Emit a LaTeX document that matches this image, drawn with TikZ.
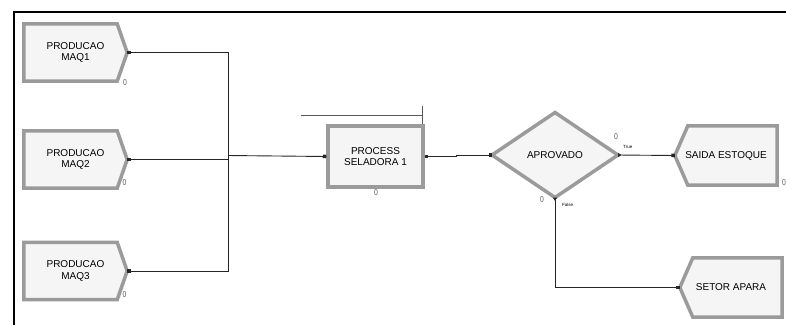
\documentclass[tikz,border=0pt]{standalone}
\usepackage{fontspec}
\setmainfont{Liberation Sans}
\usetikzlibrary{arrows.meta,shapes.geometric,positioning,backgrounds}

\definecolor{modedge}{RGB}{155,155,155}
\definecolor{modfill}{RGB}{245,245,245}
\definecolor{cntgray}{RGB}{90,90,90}

\tikzset{
  modtext/.style={minimum width=103pt, minimum height=57pt, inner sep=0pt,
    align=center, font=\fontsize{10}{11.5}\selectfont},
  disptext/.style={modtext, minimum width=102pt, minimum height=59pt},
  modframe/.style={draw=modedge, line width=3.5pt, fill=modfill, line join=miter},
  procbox/.style={modtext, modframe, rectangle, minimum width=95pt, minimum height=61pt},
  decide/.style={modframe, diamond, minimum width=126pt, minimum height=85pt,
    inner sep=0pt, outer sep=0pt, font=\fontsize{10}{11.5}\selectfont},
  flow/.style={draw=black!85, line width=0.9pt},
  qline/.style={draw=black!65, line width=1pt},
  cnt/.style={font=\fontsize{8.5}{9}\selectfont, text=cntgray, inner sep=0pt, xscale=0.8},
  small/.style={font=\fontsize{4.5}{5}\selectfont, inner sep=0pt},
  entry/.tip={Square[length=3.5pt,width=3.5pt]},
  exit/.tip={Triangle[reversed,length=3.5pt,width=4pt]},
}

\begin{document}
\begin{tikzpicture}[x=1pt, y=-1pt]
  \useasboundingbox (0,0) rectangle (786,325);
  \draw[line width=2.5pt] (786,12) -- (14,12) -- (14,325);

  % create modules
  \node[modtext] (maq1) at (75.5,52.5) {PRODUCAO\\MAQ1};
  \node[modtext] (maq2) at (75.5,159.5) {PRODUCAO\\MAQ2};
  \node[modtext] (maq3) at (75.5,271) {PRODUCAO\\MAQ3};
  \begin{scope}[on background layer]
    \foreach \n in {maq1,maq2,maq3}
      \draw[modframe] (\n.north west) -- ([xshift=-10pt]\n.north east) -- (\n.east)
        -- ([xshift=-10pt]\n.south east) -- (\n.south west) -- cycle;
  \end{scope}

  % process and decide
  \node[procbox] (proc) at (375.5,156.5) {PROCESS\\SELADORA 1};
  \node[decide] (aprov) at (555,155) {APROVADO};

  % dispose modules
  \node[disptext] (saida) at (726,155.5) {SAIDA ESTOQUE};
  \node[disptext] (setor) at (731,287.5) {SETOR APARA};
  \begin{scope}[on background layer]
    \foreach \n in {saida,setor}
      \draw[modframe] (\n.west) -- ([xshift=13pt]\n.north west) -- (\n.north east)
        -- (\n.south east) -- ([xshift=13pt]\n.south west) -- cycle;
  \end{scope}

  % connectors
  \coordinate (junc) at (228,155.5);
  \draw[flow, entry-] (maq1.east) -| (junc);
  \draw[flow, entry-] (maq2.east) -- (maq2.east -| junc);
  \draw[flow, entry-] (maq3.east) -| (junc);
  \draw[flow, -entry] (junc) -- (proc.west);
  \draw[flow, entry-entry] (proc.east) -- ++(32,0) |- (aprov.west);
  \draw[flow, exit-entry] (aprov.east) -- (saida.west);
  \draw[flow, exit-entry] (aprov.south) |- (setor.west);

  % queue of the process
  \draw[qline] (301,115) -- (422,115);
  \draw[qline] (422,106) -- (422,124);

  % counters
  \node[cnt] (c1) at (125,82.5) {0};
  \node[cnt] (c2) at (124.5,183) {0};
  \node[cnt] (c3) at (124.5,295) {0};
  \node[cnt] (c4) at (376,193) {0};
  \node[cnt] (c5) at (616,137) {0};
  \node[cnt] (c6) at (542,200) {0};
  \node[cnt, anchor=west] (c7) at (782,183) {0};
  \node[small, anchor=west] (ltrue) at (623,147) {True};
  \node[small, anchor=west] (lfalse) at (562,205) {False};
\end{tikzpicture}
\end{document}
